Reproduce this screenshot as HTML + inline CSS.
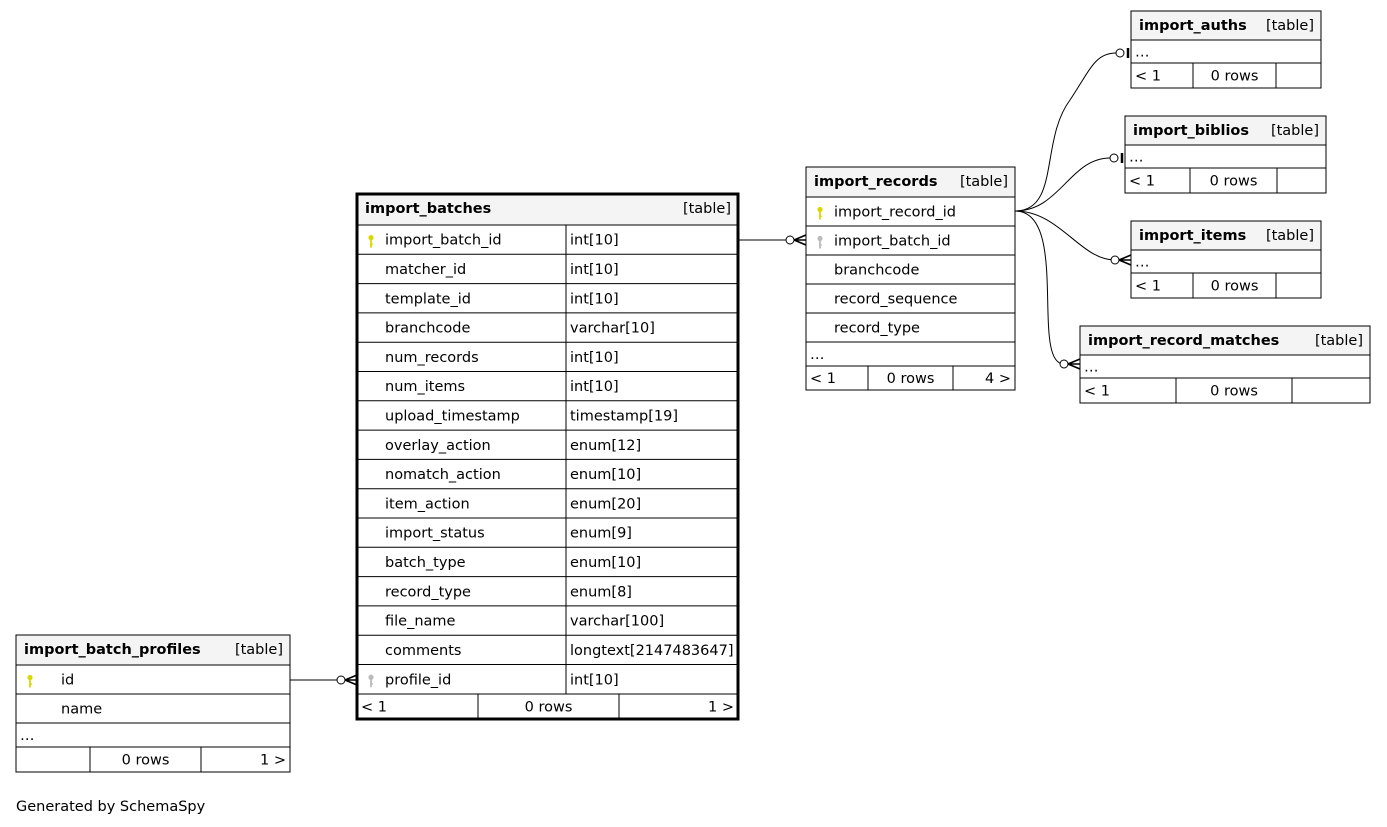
<!DOCTYPE html>
<html><head><meta charset="utf-8"><style>
html,body{margin:0;padding:0;background:#fff;width:1387px;height:827px;overflow:hidden}
svg text{font-family:"DejaVu Sans","Liberation Sans",sans-serif;font-size:14.5px;fill:#000}
</style></head><body>
<svg id="s" width="1387" height="827" xmlns="http://www.w3.org/2000/svg"></svg>
<script>
const s=document.getElementById('s');let h='';
function rect(x,y,w,hh,fill,sw){h+=`<rect x="${x}" y="${y}" width="${w}" height="${hh}" fill="${fill||'none'}" stroke="#000" stroke-width="${sw||1}"/>`;}
function line(x1,y1,x2,y2,sw){h+=`<line x1="${x1}" y1="${y1}" x2="${x2}" y2="${y2}" stroke="#000" stroke-width="${sw||1}"/>`;}
function text(x,y,t,a,b){h+=`<text x="${x}" y="${y}"${a?` text-anchor="${a}"`:''}${b?' font-weight="bold"':''}>${t}</text>`;}
function key(x,y,c){h+=`<circle cx="${x}" cy="${y-4}" r="2.6" fill="${c}"/><rect x="${x-0.9}" y="${y-3}" width="1.8" height="9" fill="${c}"/><rect x="${x}" y="${y+2}" width="2" height="1.3" fill="${c}"/>`;}
function table(x1,x2,name,rows,foot,col,thick,divs,keys,ind){
  ind=ind||28;
  const y0=rows[0][0];
  h+=`<rect x="${x1}" y="${y0}" width="${x2-x1}" height="${rows[1][0]-y0}" fill="#f4f4f4"/>`;
  text(x1+8,y0+19,name,null,true);text(x2-7,y0+19,'[table]','end');
  for(let i=1;i<rows.length;i++){const [y,l,r]=rows[i];line(x1,y,x2,y);
    const yn=(rows[i+1]?rows[i+1][0]:foot[0]);
    if(l!==undefined){const ty=(y+yn)/2+5;
      if(l==='…'){text(x1+4,ty,'…');}
      else{text(x1+ind,ty,l); if(r!==undefined){text(col+4,ty,r);}}
      if(keys&&keys[i])key(x1+14,ty-3,keys[i]);
    }
    if(col&&l!=='…'&&y<foot[0])line(col,y,col,yn);
  }
  line(x1,foot[0],x2,foot[0]);
  const fy=(foot[0]+foot[1])/2+5;
  text(x1+4,fy,foot[2]);text((divs[0]+divs[1])/2,fy,foot[3],'middle');text(x2-4,fy,foot[4],'end');
  line(divs[0],foot[0],divs[0],foot[1]);line(divs[1],foot[0],divs[1],foot[1]);
  h+=`<rect x="${x1}" y="${y0}" width="${x2-x1}" height="${foot[1]-y0}" fill="none" stroke="#000" stroke-width="${thick||1}"/>`;
}
const ib=[['import_batch_id','int[10]'],['matcher_id','int[10]'],['template_id','int[10]'],['branchcode','varchar[10]'],['num_records','int[10]'],['num_items','int[10]'],['upload_timestamp','timestamp[19]'],['overlay_action','enum[12]'],['nomatch_action','enum[10]'],['item_action','enum[20]'],['import_status','enum[9]'],['batch_type','enum[10]'],['record_type','enum[8]'],['file_name','varchar[100]'],['comments','longtext[2147483647]'],['profile_id','int[10]']];
let rows=[[194]];ib.forEach((r,i)=>rows.push([225+i*29.3,r[0],r[1]]));
table(357,738,'import_batches',rows,[694,719,'&lt; 1','0 rows','1 &gt;'],566,3,[478,619],{1:'#d8d800',16:'#bbbbbb'});
rows=[[167],[197,'import_record_id'],[226,'import_batch_id'],[255,'branchcode'],[284,'record_sequence'],[313,'record_type'],[342,'…']];
table(806,1015,'import_records',rows,[366,390,'&lt; 1','0 rows','4 &gt;'],null,1,[868,953],{1:'#d8d800',2:'#bbbbbb'});
function small(x1,x2,y0,name,d){rows=[[y0],[y0+29,'…']];table(x1,x2,name,rows,[y0+52,y0+77,'&lt; 1','0 rows',''],null,1,d);}
small(1131,1321,11,'import_auths',[1193,1276]);
small(1125,1326,116,'import_biblios',[1190,1277]);
small(1131,1321,221,'import_items',[1193,1276]);
small(1080,1370,326,'import_record_matches',[1176,1292]);
rows=[[635],[665,'id'],[694,'name'],[723,'…']];
table(16,290,'import_batch_profiles',rows,[747,772,'','0 rows','1 &gt;'],null,1,[90,201],{1:'#d8d800'},45);
function crow(x,y){h+=`<circle cx="${x-16}" cy="${y}" r="4" fill="#fff" stroke="#000"/><path d="M${x-12} ${y}L${x} ${y-5}M${x-12} ${y}L${x} ${y+5}M${x-12} ${y}L${x} ${y}" stroke="#000" stroke-width="1.6" fill="none"/>`;}
function bar(x,y){h+=`<circle cx="${x-11}" cy="${y}" r="4" fill="#fff" stroke="#000"/><line x1="${x-3}" y1="${y-5}" x2="${x-3}" y2="${y+5}" stroke="#000" stroke-width="2.5"/>`;}
h+=`<path d="M739 240H790" stroke="#000" fill="none"/>`;crow(806,240);
h+=`<path d="M290 680H341" stroke="#000" fill="none"/>`;crow(357,680);
h+=`<path d="M1015 211C1060 211 1040 140 1070 100C1090 70 1095 53 1116 53" stroke="#000" fill="none"/>`;bar(1131,53);
h+=`<path d="M1015 211C1060 211 1070 158 1110 158" stroke="#000" fill="none"/>`;bar(1125,158);
h+=`<path d="M1015 211C1060 211 1080 260 1115 260" stroke="#000" fill="none"/>`;crow(1131,260);
h+=`<path d="M1015 211C1070 211 1030 364 1064 364" stroke="#000" fill="none"/>`;crow(1080,364);
text(16,811,'Generated by SchemaSpy');
s.innerHTML=h;
</script>
</body></html>
